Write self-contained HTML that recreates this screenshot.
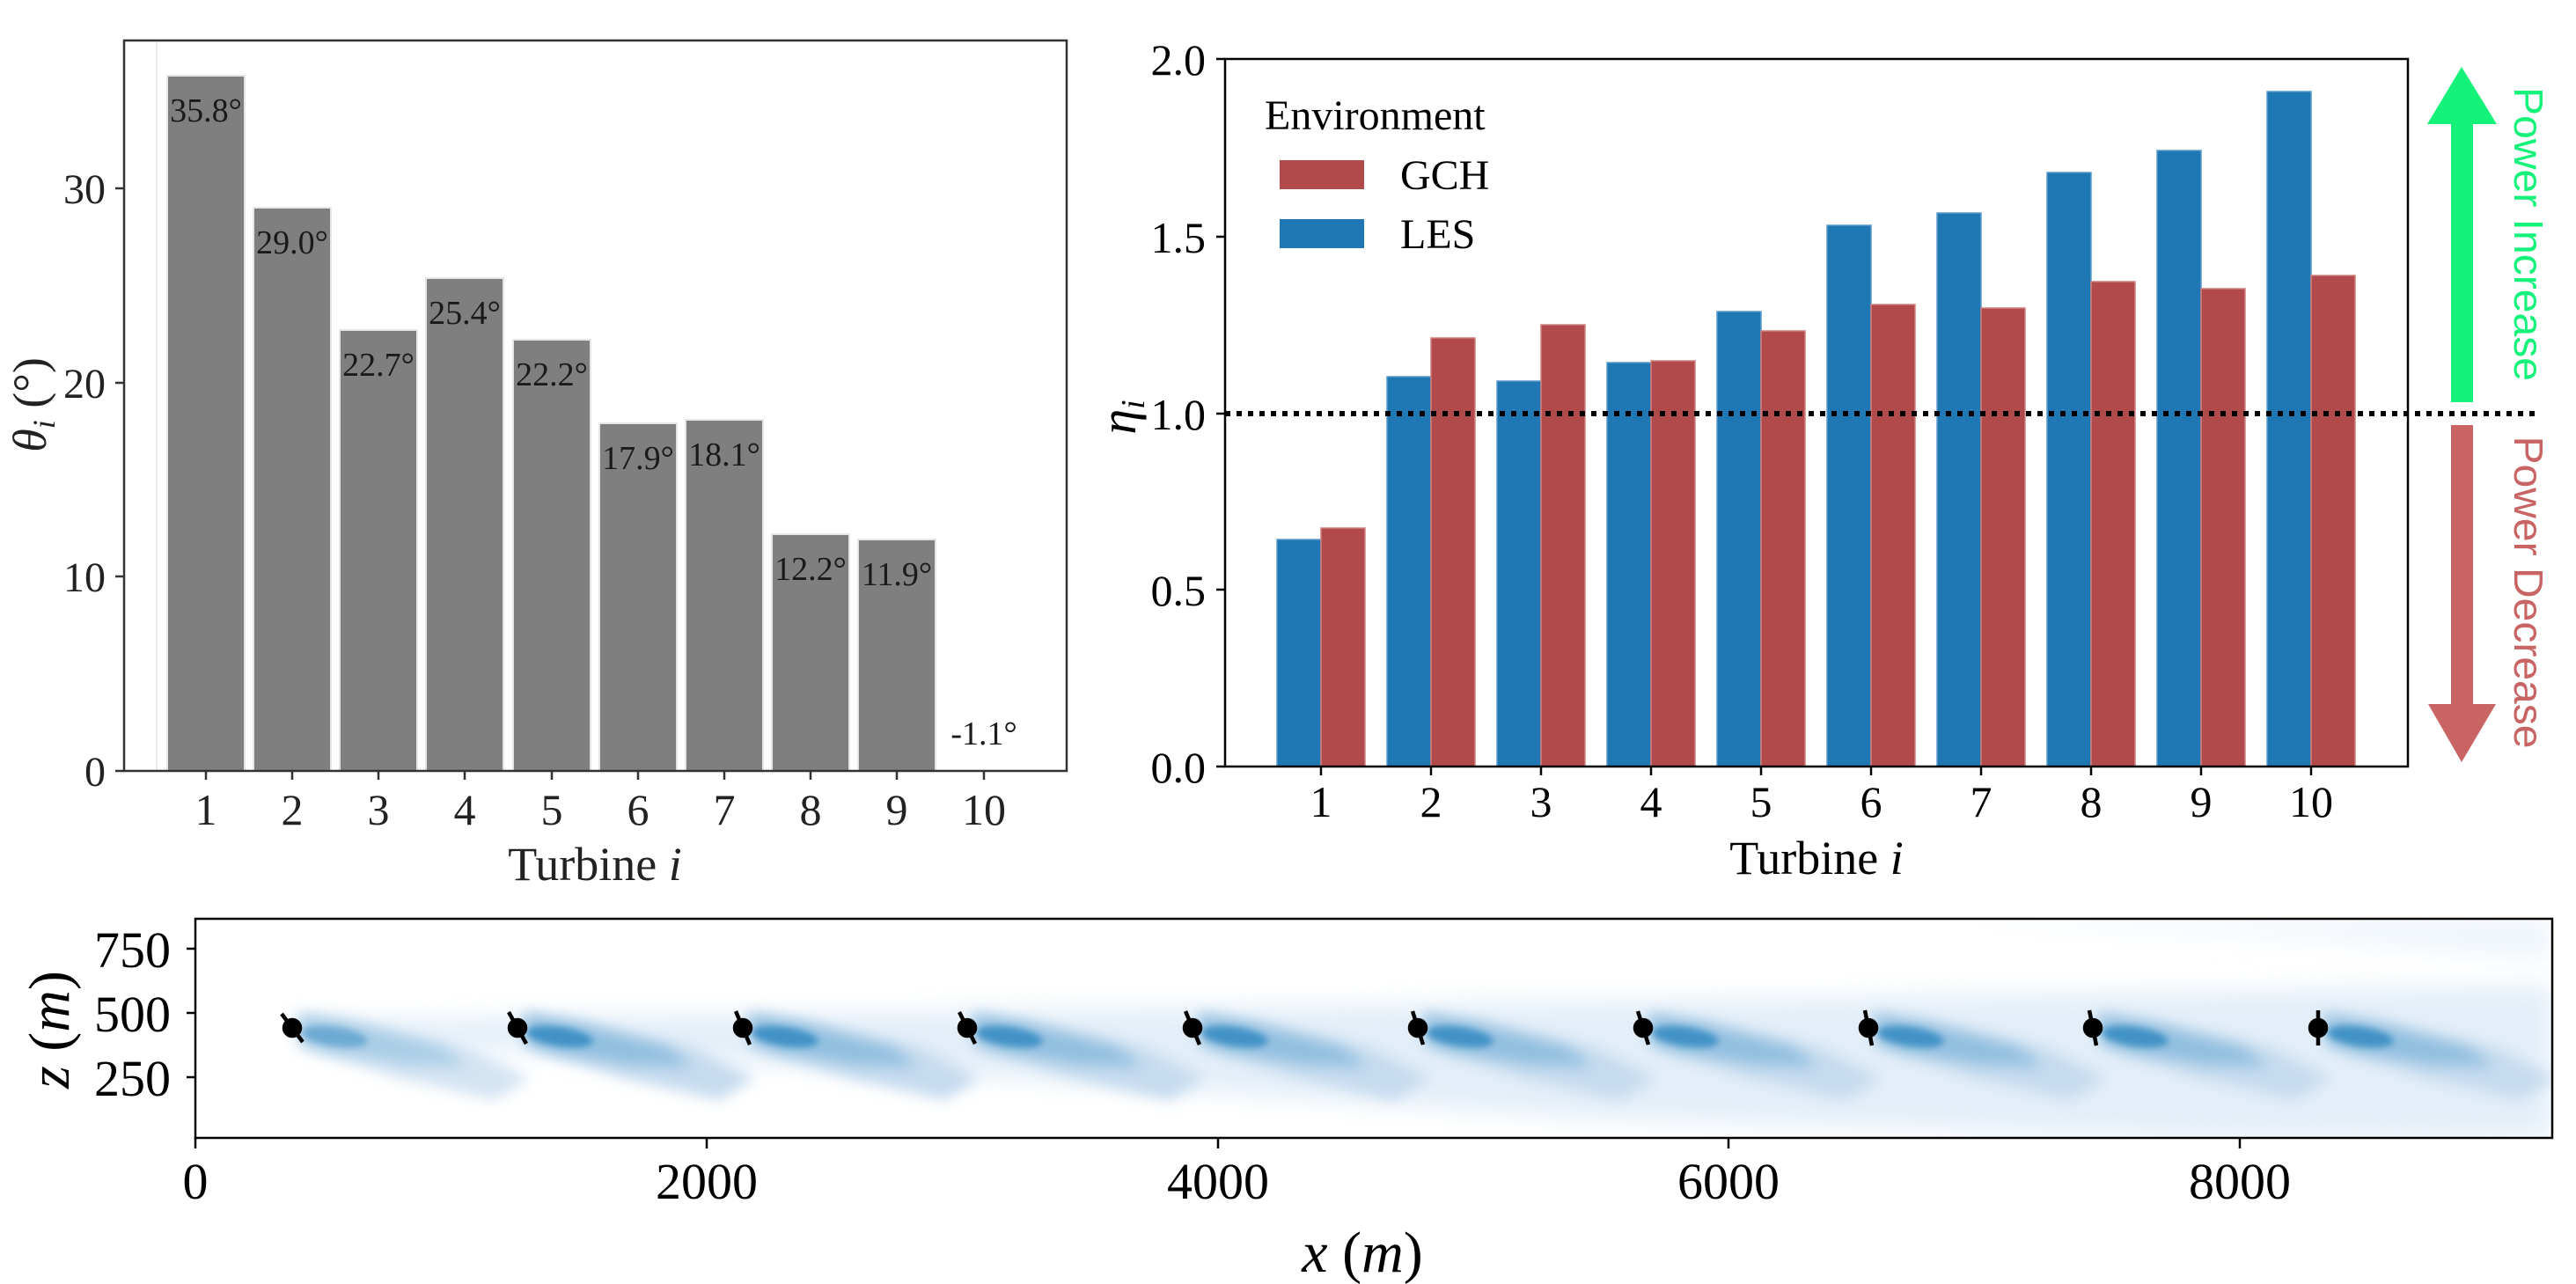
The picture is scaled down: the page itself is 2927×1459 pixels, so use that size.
<!DOCTYPE html>
<html><head><meta charset="utf-8"><style>html,body{margin:0;padding:0;background:#fff}svg{display:block}</style></head>
<body>
<svg xmlns="http://www.w3.org/2000/svg" width="2927" height="1459" viewBox="0 0 2927 1459" font-family="Liberation Serif, serif">
<defs>
<filter id="b8" x="-50%" y="-50%" width="200%" height="200%"><feGaussianBlur stdDeviation="8"/></filter>
<filter id="b4" x="-50%" y="-50%" width="200%" height="200%"><feGaussianBlur stdDeviation="4"/></filter>
<filter id="b14" x="-50%" y="-50%" width="200%" height="200%"><feGaussianBlur stdDeviation="14"/></filter>
<clipPath id="cb"><rect x="222" y="1044" width="2678" height="249"/></clipPath>
<g id="wk">
<polygon points="5,1150 60,1158 200,1190 270,1225 230,1250 120,1225 10,1190" fill="#c6dbef" filter="url(#b8)"/>
<polygon points="8,1154 70,1164 170,1190 200,1212 130,1210 40,1195 10,1185" fill="#91bfdf" filter="url(#b8)"/>
<ellipse cx="48" cy="1178" rx="38" ry="11" transform="rotate(8 48 1178)" fill="#4292c6" filter="url(#b4)"/>
</g>
</defs>

<!-- LEFT PLOT -->
<g>
<line x1="178" y1="46" x2="178" y2="876" stroke="#ddd" stroke-width="1"/>
<g fill="#7f7f7f" stroke="#e6e6e6" stroke-width="2">
<rect x="190" y="86" width="88" height="790"/>
<rect x="288" y="236" width="88" height="640"/>
<rect x="386" y="375" width="88" height="501"/>
<rect x="484" y="316" width="88" height="560"/>
<rect x="583" y="386" width="88" height="490"/>
<rect x="681" y="481" width="88" height="395"/>
<rect x="779" y="477" width="88" height="399"/>
<rect x="877" y="607" width="88" height="269"/>
<rect x="975" y="613" width="88" height="263"/>
</g>
<g font-size="38" text-anchor="middle" fill="#1a1a1a">
<text x="234" y="138">35.8°</text>
<text x="332" y="288">29.0°</text>
<text x="430" y="427">22.7°</text>
<text x="528" y="368">25.4°</text>
<text x="627" y="438">22.2°</text>
<text x="725" y="533">17.9°</text>
<text x="823" y="529">18.1°</text>
<text x="921" y="659">12.2°</text>
<text x="1019" y="665">11.9°</text>
<text x="1118" y="846">-1.1°</text>
</g>
<rect x="141" y="46" width="1071" height="830" fill="none" stroke="#333" stroke-width="2.5"/>
<g stroke="#333" stroke-width="2.5">
<line x1="131" y1="876" x2="141" y2="876"/><line x1="131" y1="655" x2="141" y2="655"/>
<line x1="131" y1="435" x2="141" y2="435"/><line x1="131" y1="214" x2="141" y2="214"/>
<line x1="234" y1="876" x2="234" y2="886"/><line x1="332" y1="876" x2="332" y2="886"/>
<line x1="430" y1="876" x2="430" y2="886"/><line x1="528" y1="876" x2="528" y2="886"/>
<line x1="627" y1="876" x2="627" y2="886"/><line x1="725" y1="876" x2="725" y2="886"/>
<line x1="823" y1="876" x2="823" y2="886"/><line x1="921" y1="876" x2="921" y2="886"/>
<line x1="1019" y1="876" x2="1019" y2="886"/><line x1="1118" y1="876" x2="1118" y2="886"/>
</g>
<g font-size="48" text-anchor="end" fill="#222">
<text x="120" y="893">0</text><text x="120" y="672">10</text><text x="120" y="452">20</text><text x="120" y="231">30</text>
</g>
<g font-size="50" text-anchor="middle" fill="#222">
<text x="234" y="937">1</text><text x="332" y="937">2</text><text x="430" y="937">3</text><text x="528" y="937">4</text>
<text x="627" y="937">5</text><text x="725" y="937">6</text><text x="823" y="937">7</text><text x="921" y="937">8</text>
<text x="1019" y="937">9</text><text x="1118" y="937">10</text>
</g>
<text x="676" y="1000" font-size="54" text-anchor="middle" fill="#222">Turbine <tspan font-style="italic">i</tspan></text>
<text transform="translate(52,460) rotate(-90)" font-size="54" text-anchor="middle" fill="#222"><tspan font-style="italic">θ</tspan><tspan font-style="italic" font-size="36" dy="10">i</tspan><tspan dy="-10"> (°)</tspan></text>
</g>

<!-- RIGHT PLOT -->
<g>
<g stroke-width="1.5">
<g fill="#1f77b4" stroke="#5a9bd0">
<rect x="1451" y="613" width="50" height="258"/>
<rect x="1576" y="428" width="50" height="443"/>
<rect x="1701" y="433" width="50" height="438"/>
<rect x="1826" y="412" width="50" height="459"/>
<rect x="1951" y="354" width="50" height="517"/>
<rect x="2076" y="256" width="50" height="615"/>
<rect x="2201" y="242" width="50" height="629"/>
<rect x="2326" y="196" width="50" height="675"/>
<rect x="2451" y="171" width="50" height="700"/>
<rect x="2576" y="104" width="50" height="767"/>
</g>
<g fill="#b04a4b" stroke="#d08080">
<rect x="1501" y="600" width="50" height="271"/>
<rect x="1626" y="384" width="50" height="487"/>
<rect x="1751" y="369" width="50" height="502"/>
<rect x="1876" y="410" width="50" height="461"/>
<rect x="2001" y="376" width="50" height="495"/>
<rect x="2126" y="346" width="50" height="525"/>
<rect x="2251" y="350" width="50" height="521"/>
<rect x="2376" y="320" width="50" height="551"/>
<rect x="2501" y="328" width="50" height="543"/>
<rect x="2626" y="313" width="50" height="558"/>
</g>
</g>
<line x1="1392" y1="470" x2="2885" y2="470" stroke="#000" stroke-width="6" stroke-dasharray="6,7"/>
<rect x="1392" y="67" width="1344" height="804" fill="none" stroke="#000" stroke-width="2.5"/>
<g stroke="#000" stroke-width="2.5">
<line x1="1382" y1="871" x2="1392" y2="871"/><line x1="1382" y1="670" x2="1392" y2="670"/>
<line x1="1382" y1="470" x2="1392" y2="470"/><line x1="1382" y1="269" x2="1392" y2="269"/>
<line x1="1382" y1="67" x2="1392" y2="67"/>
<line x1="1501" y1="871" x2="1501" y2="881"/><line x1="1626" y1="871" x2="1626" y2="881"/>
<line x1="1751" y1="871" x2="1751" y2="881"/><line x1="1876" y1="871" x2="1876" y2="881"/>
<line x1="2001" y1="871" x2="2001" y2="881"/><line x1="2126" y1="871" x2="2126" y2="881"/>
<line x1="2251" y1="871" x2="2251" y2="881"/><line x1="2376" y1="871" x2="2376" y2="881"/>
<line x1="2501" y1="871" x2="2501" y2="881"/><line x1="2626" y1="871" x2="2626" y2="881"/>
</g>
<g font-size="50" text-anchor="end" fill="#000">
<text x="1370" y="889">0.0</text><text x="1370" y="688">0.5</text><text x="1370" y="488">1.0</text>
<text x="1370" y="287">1.5</text><text x="1370" y="85">2.0</text>
</g>
<g font-size="50" text-anchor="middle" fill="#000">
<text x="1501" y="928">1</text><text x="1626" y="928">2</text><text x="1751" y="928">3</text><text x="1876" y="928">4</text>
<text x="2001" y="928">5</text><text x="2126" y="928">6</text><text x="2251" y="928">7</text><text x="2376" y="928">8</text>
<text x="2501" y="928">9</text><text x="2626" y="928">10</text>
</g>
<text x="2064" y="993" font-size="54" text-anchor="middle">Turbine <tspan font-style="italic">i</tspan></text>
<text transform="translate(1290,474) rotate(-90)" font-size="58" text-anchor="middle"><tspan font-style="italic">η</tspan><tspan font-style="italic" font-size="38" dy="10">i</tspan></text>
<text x="1437" y="147" font-size="48">Environment</text>
<rect x="1454" y="182" width="96" height="33" fill="#b04a4b"/>
<rect x="1454" y="249" width="96" height="33" fill="#1f77b4"/>
<text x="1591" y="215" font-size="48">GCH</text>
<text x="1591" y="282" font-size="48">LES</text>
<rect x="2785" y="140" width="25" height="317" fill="#14f27a"/>
<polygon points="2758,141 2837,141 2797,76" fill="#14f27a"/>
<rect x="2785" y="483" width="25" height="318" fill="#c86464"/>
<polygon points="2759,800 2836,800 2797,866" fill="#c86464"/>
<text transform="translate(2857,266) rotate(90)" font-family="Liberation Sans, sans-serif" font-size="46" text-anchor="middle" fill="#14f27a" textLength="334" lengthAdjust="spacingAndGlyphs">Power Increase</text>
<text transform="translate(2857,673) rotate(90)" font-family="Liberation Sans, sans-serif" font-size="46" text-anchor="middle" fill="#c86464" textLength="355" lengthAdjust="spacingAndGlyphs">Power Decrease</text>
</g>

<!-- BOTTOM PLOT -->
<g clip-path="url(#cb)">
<polygon points="340,1160 1000,1150 2000,1135 2900,1120 2900,1290 2500,1292 1800,1270 1200,1228 700,1198 340,1182" fill="#e3eef8" filter="url(#b14)"/>
<polygon points="2200,1044 2900,1044 2900,1090 2600,1065" fill="#eef5fc" filter="url(#b14)"/>
<use href="#wk" x="332" opacity="0.75"/>
<use href="#wk" x="588"/>
<use href="#wk" x="844"/>
<use href="#wk" x="1099"/>
<use href="#wk" x="1355"/>
<use href="#wk" x="1611"/>
<use href="#wk" x="1867"/>
<use href="#wk" x="2123"/>
<use href="#wk" x="2378"/>
<use href="#wk" x="2634"/>
<g stroke="#000" stroke-width="4.5" fill="#000">
<line x1="320" y1="1152" x2="344" y2="1184"/><circle cx="332" cy="1168" r="9"/>
<line x1="578" y1="1150" x2="598" y2="1186"/><circle cx="588" cy="1168" r="9"/>
<line x1="836" y1="1149" x2="852" y2="1187"/><circle cx="844" cy="1168" r="9"/>
<line x1="1090" y1="1150" x2="1108" y2="1186"/><circle cx="1099" cy="1168" r="9"/>
<line x1="1347" y1="1149" x2="1363" y2="1187"/><circle cx="1355" cy="1168" r="9"/>
<line x1="1605" y1="1149" x2="1617" y2="1187"/><circle cx="1611" cy="1168" r="9"/>
<line x1="1861" y1="1149" x2="1873" y2="1187"/><circle cx="1867" cy="1168" r="9"/>
<line x1="2119" y1="1148" x2="2127" y2="1188"/><circle cx="2123" cy="1168" r="9"/>
<line x1="2374" y1="1148" x2="2382" y2="1188"/><circle cx="2378" cy="1168" r="9"/>
<line x1="2634" y1="1148" x2="2634" y2="1188"/><circle cx="2634" cy="1168" r="9"/>
</g>
</g>
<rect x="222" y="1044" width="2678" height="249" fill="none" stroke="#000" stroke-width="2.5"/>
<g stroke="#000" stroke-width="2.5">
<line x1="212" y1="1078" x2="222" y2="1078"/><line x1="212" y1="1151" x2="222" y2="1151"/><line x1="212" y1="1224" x2="222" y2="1224"/>
<line x1="222" y1="1293" x2="222" y2="1305"/><line x1="803" y1="1293" x2="803" y2="1305"/>
<line x1="1384" y1="1293" x2="1384" y2="1305"/><line x1="1964" y1="1293" x2="1964" y2="1305"/>
<line x1="2545" y1="1293" x2="2545" y2="1305"/>
</g>
<g font-size="58" text-anchor="end">
<text x="194" y="1099">750</text><text x="194" y="1172">500</text><text x="194" y="1245">250</text>
</g>
<g font-size="58" text-anchor="middle">
<text x="222" y="1362">0</text><text x="803" y="1362">2000</text><text x="1384" y="1362">4000</text>
<text x="1964" y="1362">6000</text><text x="2545" y="1362">8000</text>
</g>
<text x="1548" y="1445" font-size="66" text-anchor="middle"><tspan font-style="italic">x</tspan> (<tspan font-style="italic">m</tspan>)</text>
<text transform="translate(78,1170) rotate(-90)" font-size="66" text-anchor="middle"><tspan font-style="italic">z</tspan> (<tspan font-style="italic">m</tspan>)</text>
</svg>
</body></html>
